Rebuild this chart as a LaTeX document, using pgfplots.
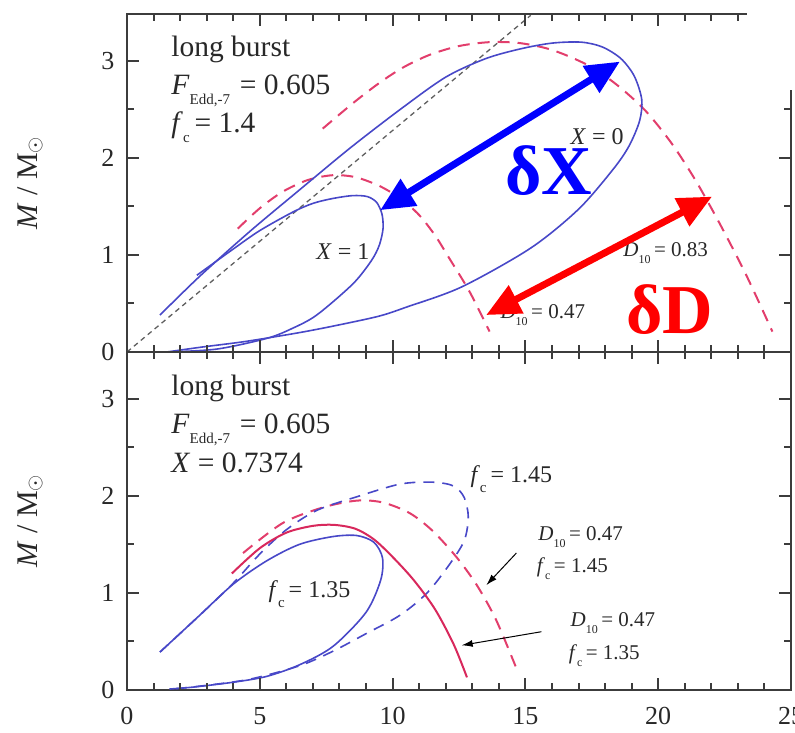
\documentclass[border=0pt]{standalone}
\usepackage{fontspec}
\setmainfont{Liberation Serif}
\usepackage{pgfplots}
\pgfplotsset{compat=1.18}
\usetikzlibrary{arrows.meta}

\definecolor{cblue}{RGB}{72,72,200}
\definecolor{cred}{RGB}{226,62,108}
\definecolor{cred2}{RGB}{216,40,92}
\definecolor{cgrey}{RGB}{95,95,95}
\definecolor{ctext}{RGB}{40,40,40}
\definecolor{caxis}{RGB}{60,60,60}

\newcommand{\subA}[1]{\raisebox{-10pt}{\fontsize{15}{15}\selectfont #1}}
\newcommand{\subB}[1]{\raisebox{-7pt}{\fontsize{12}{12}\selectfont #1}}

\tikzset{
  annotL/.style={anchor=base west, text=ctext, font=\fontsize{29.5}{29.5}\selectfont},
  annotS/.style={anchor=base west, text=ctext, font=\fontsize{24}{24}\selectfont},
  annotT/.style={anchor=base west, text=ctext, font=\fontsize{21}{21}\selectfont},
  tk/.style={draw=caxis, line width=2pt, line cap=butt},
}

\pgfplotsset{
  panel/.style={
    scale only axis, width=664pt, height=338pt,
    xmin=0, xmax=25, ymin=0, ymax=3.48,
    xtick={0,5,10,15,20,25}, ytick={0,1,2,3},
    tick align=inside, major tick length=12pt,
    tick style={draw=caxis, line width=2pt},
    axis line style={draw=caxis, line width=1.5pt},
    tick label style={font=\fontsize{26}{26}\selectfont, text=ctext},
    /pgf/number format/assume math mode=true,
    yticklabel style={xshift=-9pt},
    xticklabel style={yshift=-14pt},
    ylabel={\fontsize{30}{30}\selectfont\textit{M} / M$_{\odot}$},
    ylabel style={at={(axis description cs:-0.146,0.5)}, anchor=center, text=ctext},
  },
}

\begin{document}
\begin{tikzpicture}

% ---------------- top panel ----------------
\begin{axis}[panel, at={(0pt,338pt)}, anchor=south west, xticklabels=\empty]
% grey diagonal
\addplot[cgrey, line width=1.3pt, dash pattern=on 5pt off 4pt] coordinates {(0,0) (15.2,3.466)};
% red dashed D10 = 0.47
\addplot[cred, line width=2pt, dash pattern=on 12pt off 8pt, smooth] coordinates {
(4.17,1.27) (5.0,1.48) (5.86,1.65) (6.8,1.77) (7.74,1.82) (8.6,1.80) (9.5,1.71)
(10.3,1.58) (11.0,1.41) (11.6,1.2) (12.1,0.98) (12.9,0.62) (13.65,0.21)};
% red dashed D10 = 0.83
\addplot[cred, line width=2pt, dash pattern=on 12pt off 8pt, smooth] coordinates {
(7.37,2.3) (8.5,2.56) (9.5,2.77) (10.4,2.93) (11.4,3.06) (12.5,3.15) (13.65,3.19)
(14.8,3.18) (16.0,3.11) (17.3,2.96) (18.4,2.76) (19.5,2.49) (20.5,2.15) (21.4,1.77)
(22.3,1.33) (23.3,0.8) (24.3,0.21)};
% blue X = 0
\addplot[cblue, line width=1.6pt, smooth] coordinates {
(1.24,0.38) (2.74,0.78) (4.62,1.24) (6.5,1.67) (8.4,2.1) (10.3,2.5) (12.0,2.83)
(13.5,3.02) (14.8,3.12) (16.0,3.18) (17.1,3.19) (17.9,3.14) (18.6,3.02) (19.1,2.84)
(19.38,2.6) (19.3,2.38) (18.9,2.12) (18.3,1.88) (17.0,1.47) (15.2,1.07) (12.6,0.67)
(10.5,0.46) (9.5,0.37) (8.0,0.28) (6.5,0.2) (4.5,0.11) (2.8,0.05) (1.5,0.0)};
% blue X = 1
\addplot[cblue, line width=1.6pt, smooth] coordinates {
(2.63,0.79) (4.0,1.06) (5.0,1.25) (6.24,1.44) (7.0,1.53) (7.74,1.58) (8.5,1.61)
(9.05,1.6) (9.4,1.54) (9.6,1.42) (9.64,1.27) (9.5,1.1) (9.2,0.94) (8.5,0.7)
(7.14,0.38) (6.2,0.24) (5.26,0.14) (3.38,0.03) (1.5,0.0)};
% labels
\node[annotL] at (axis cs:1.54,3.04) {long burst};
\node[annotL] at (axis cs:1.54,2.65) {\textit{F}\subA{Edd,-7}\,\,= 0.605};
\node[annotL] at (axis cs:1.54,2.26) {\textit{f}\subA{c}\,= 1.4};
\node[annotS] at (axis cs:16.57,2.14) {\textit{X} = 0};
\node[annotS] at (axis cs:7.0,0.95) {\textit{X} = 1};
\node[annotT] at (axis cs:18.56,0.98) {\textit{D}\subB{10}\,= 0.83};
\node[annotT] at (axis cs:13.93,0.34) {\textit{D}\subB{10}\,= 0.47};
% overlay arrows
\draw[blue, line width=7pt, {Triangle[length=34pt,width=30pt]}-{Triangle[length=34pt,width=30pt]}]
  (axis cs:9.53,1.46) -- (axis cs:18.56,2.99);
\draw[red, line width=7pt, {Triangle[length=34pt,width=30pt]}-{Triangle[length=34pt,width=30pt]}]
  (axis cs:13.52,0.38) -- (axis cs:22.03,1.6);
\node[anchor=base west, text=blue, font=\bfseries\fontsize{70}{70}\selectfont] at (axis cs:14.12,1.62) {δX};
\node[anchor=base west, text=red, font=\bfseries\fontsize{70}{70}\selectfont] at (axis cs:18.67,0.19) {δD};
\end{axis}

% ---------------- bottom panel ----------------
\begin{axis}[panel, at={(0pt,0pt)}, anchor=south west]
% red dashed D10=0.47 fc=1.45
\addplot[cred, line width=2pt, dash pattern=on 12pt off 8pt, smooth] coordinates {
(4.37,1.41) (5.87,1.72) (7.38,1.88) (8.66,1.95) (9.64,1.93) (10.65,1.82) (11.5,1.64)
(12.4,1.37) (13.17,1.08) (13.9,0.72) (14.68,0.21)};
% blue dashed fc=1.45
\addplot[cblue, line width=1.6pt, dash pattern=on 11pt off 8pt, smooth] coordinates {
(1.24,0.39) (2.74,0.77) (4.0,1.1) (5.0,1.4) (6.0,1.65) (7.15,1.85) (8.66,1.99)
(10.28,2.12) (11.5,2.14) (12.3,2.1) (12.7,1.98) (12.85,1.78) (12.7,1.54) (12.16,1.3)
(11.3,1.0) (10.28,0.77) (9.0,0.58) (7.76,0.4) (6.5,0.25) (4.6,0.11) (2.75,0.04) (1.7,0.01)};
% blue solid fc=1.35
\addplot[cblue, line width=1.6pt, smooth] coordinates {
(1.24,0.39) (2.74,0.77) (4.0,1.09) (5.26,1.33) (6.5,1.5) (7.76,1.58) (8.66,1.59)
(9.3,1.52) (9.62,1.36) (9.55,1.13) (9.0,0.8) (7.76,0.45) (6.5,0.26) (5.26,0.14)
(4.0,0.08) (2.5,0.03) (1.6,0.01)};
% red solid D10=0.47 fc=1.35
\addplot[cred2, line width=2pt, smooth] coordinates {
(3.95,1.2) (5.0,1.46) (6.0,1.62) (7.0,1.69) (7.8,1.7) (8.6,1.66) (9.3,1.55)
(10.0,1.37) (10.8,1.13) (11.6,0.83) (12.3,0.47) (12.8,0.13)};
% labels
\node[annotL] at (axis cs:1.54,3.03) {long burst};
\node[annotL] at (axis cs:1.54,2.64) {\textit{F}\subA{Edd,-7}\,\,= 0.605};
\node[annotL] at (axis cs:1.54,2.24) {\textit{X} = 0.7374};
\node[annotS] at (axis cs:5.2,0.95) {\textit{f}\subA{c}\,= 1.35};
\node[annotS] at (axis cs:12.8,2.14) {\textit{f}\subA{c}\,= 1.45};
\node[annotT] at (axis cs:15.36,1.54) {\textit{D}\subB{10}\,= 0.47};
\node[annotT] at (axis cs:15.3,1.21) {\textit{f}\subB{c}\,= 1.45};
\node[annotT] at (axis cs:16.57,0.65) {\textit{D}\subB{10}\,= 0.47};
\node[annotT] at (axis cs:16.5,0.31) {\textit{f}\subB{c}\,= 1.35};
\draw[black, line width=1pt, -{Latex[length=11pt,width=7pt]}] (axis cs:14.66,1.41) -- (axis cs:13.53,1.08);
\draw[black, line width=1pt, -{Latex[length=11pt,width=7pt]}] (axis cs:15.6,0.6) -- (axis cs:12.6,0.46);
\end{axis}

% inward tick marks on all sides of both panels
\foreach \i in {1,2,3,4,6,7,8,9,11,12,13,14,16,17,18,19,21,22,23,24}{
  \draw[tk] ({\i*26.56pt},0pt) -- ({\i*26.56pt},7pt);
  \draw[tk] ({\i*26.56pt},331pt) -- ({\i*26.56pt},345pt);
  \draw[tk] ({\i*26.56pt},669pt) -- ({\i*26.56pt},676pt);
}
\foreach \i in {5,10,15,20}{
  \draw[tk] ({\i*26.56pt},0pt) -- ({\i*26.56pt},12pt);
  \draw[tk] ({\i*26.56pt},326pt) -- ({\i*26.56pt},350pt);
  \draw[tk] ({\i*26.56pt},664pt) -- ({\i*26.56pt},676pt);
}
\foreach \j in {1,3,5}{
  \draw[tk] (0pt,{\j*48.563pt}) -- (7pt,{\j*48.563pt});
  \draw[tk] (664pt,{\j*48.563pt}) -- (657pt,{\j*48.563pt});
  \draw[tk] (0pt,{338pt+\j*48.563pt}) -- (7pt,{338pt+\j*48.563pt});
  \draw[tk] (664pt,{338pt+\j*48.563pt}) -- (657pt,{338pt+\j*48.563pt});
}
\foreach \j in {2,4,6}{
  \draw[tk] (0pt,{\j*48.563pt}) -- (12pt,{\j*48.563pt});
  \draw[tk] (664pt,{\j*48.563pt}) -- (652pt,{\j*48.563pt});
  \draw[tk] (0pt,{338pt+\j*48.563pt}) -- (12pt,{338pt+\j*48.563pt});
  \draw[tk] (664pt,{338pt+\j*48.563pt}) -- (652pt,{338pt+\j*48.563pt});
}

% white overlay in the top right corner, as in the reference
\fill[white] (620pt,600pt) rectangle (670pt,700pt);
\pgfresetboundingbox
\path[use as bounding box] (-127pt,-43pt) rectangle (668pt,690pt);
\end{tikzpicture}
\end{document}
